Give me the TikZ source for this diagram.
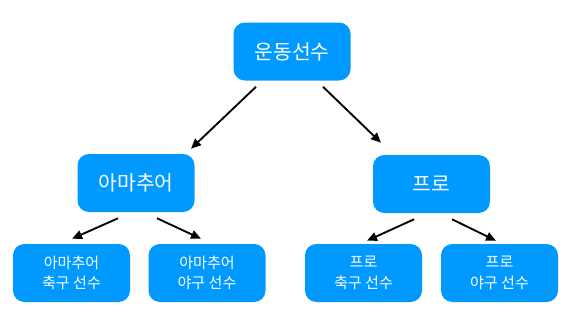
\documentclass[tikz,border=0pt]{standalone}
\usepackage{fontspec}
\setmainfont{Noto Sans CJK KR}
\usetikzlibrary{arrows.meta}
\definecolor{nodeblue}{HTML}{0099FF}

\begin{document}
\begin{tikzpicture}[x=0.75pt,y=-0.75pt,
  box/.style={fill=nodeblue,rounded corners=8.5pt,text=white,minimum width=87.75pt,minimum height=43.5pt,inner sep=0pt,align=center},
  bigbox/.style={box,font=\fontsize{15.3}{18}\selectfont},
  smallbox/.style={box,font=\fontsize{11.3}{15.5}\selectfont},
  arr/.style={-{Triangle[length=7.5pt,width=6.5pt]},line width=1.4pt}]
\useasboundingbox (0,0) rectangle (572,322);
\node[bigbox] (athlete) at (292,51.5) {운동선수};
\node[bigbox] (amateur) at (136,183) {아마추어};
\node[bigbox] (pro) at (431.5,184) {프로};
\node[smallbox] (amsoccer) at (71.5,273) {아마추어\\축구 선수};
\node[smallbox] (ambase) at (207,273) {아마추어\\야구 선수};
\node[smallbox] (prosoccer) at (363.5,273) {프로\\축구 선수};
\node[smallbox] (probase) at (499.5,273) {프로\\야구 선수};
\draw[arr] ([xshift=-27pt,yshift=-4.5pt]athlete.south) -- ([xshift=41.25pt,yshift=3.75pt]amateur.north);
\draw[arr] ([xshift=23.25pt,yshift=-4.5pt]athlete.south) -- ([xshift=-37.9pt,yshift=9pt]pro.north);
\draw[arr] ([xshift=-13.5pt,yshift=-4.5pt]amateur.south) -- ([xshift=0.4pt,yshift=3.75pt]amsoccer.north);
\draw[arr] ([xshift=15.75pt,yshift=-4.5pt]amateur.south) -- ([xshift=-4.5pt,yshift=3.75pt]ambase.north);
\draw[arr] ([xshift=-13.1pt,yshift=-4.5pt]pro.south) -- ([xshift=2.6pt,yshift=2.25pt]prosoccer.north);
\draw[arr] ([xshift=15.4pt,yshift=-4.5pt]pro.south) -- ([xshift=-2.6pt,yshift=2.25pt]probase.north);
\end{tikzpicture}
\end{document}
